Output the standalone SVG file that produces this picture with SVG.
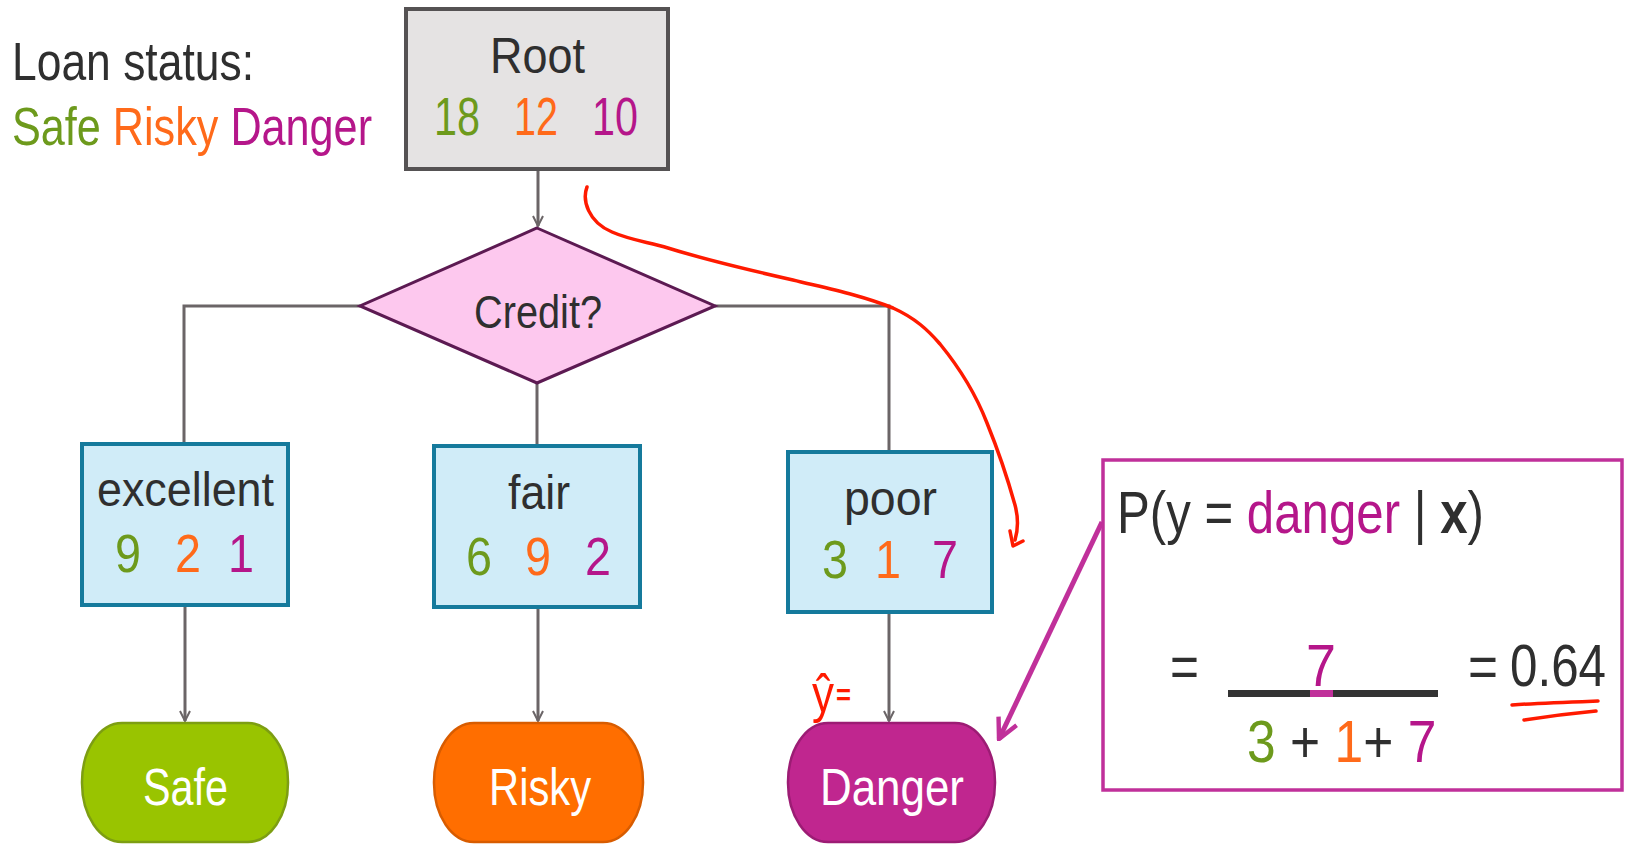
<svg xmlns="http://www.w3.org/2000/svg" width="1625" height="845" viewBox="0 0 1625 845">
<defs>
<style>
text{font-family:"Liberation Sans","DejaVu Sans",sans-serif}
.dk{fill:#2f2f2f}
.g{fill:#6d9a1c}
.o{fill:#ff6a1a}
.m{fill:#b5168a}
.w{fill:#ffffff}
.conn{fill:none;stroke:#6b6567;stroke-width:3}
.box{fill:#d0ecf8;stroke:#157a9c;stroke-width:4}
.red{fill:none;stroke:#ff1a00;stroke-width:3.5;stroke-linecap:round;stroke-linejoin:round}
</style>
<marker id="ga" viewBox="0 0 12 12" refX="11" refY="6" markerWidth="12" markerHeight="12" markerUnits="userSpaceOnUse" orient="auto">
<path d="M1,1 L11,6 L1,11" fill="none" stroke="#6b6567" stroke-width="2"/>
</marker>
<marker id="ma" viewBox="0 0 12 12" refX="11" refY="6" markerWidth="24" markerHeight="24" markerUnits="userSpaceOnUse" orient="auto">
<path d="M1,1 L11,6 L1,11" fill="none" stroke="#c0309a" stroke-width="2.2"/>
</marker>
</defs>
<rect width="1625" height="845" fill="#ffffff"/>

<g id="legend">
<text x="12" y="80" font-size="54" textLength="242" lengthAdjust="spacingAndGlyphs" class="dk">Loan status:</text>
<g transform="translate(12,145) scale(0.8,1)">
<text x="0" y="0" font-size="54"><tspan class="g">Safe</tspan> <tspan class="o">Risky</tspan> <tspan class="m">Danger</tspan></text>
</g>
</g>

<g id="connectors">
<path class="conn" d="M538,169 V226" marker-end="url(#ga)"/>
<path class="conn" d="M360,306 H184 V443"/>
<path class="conn" d="M537,383 V446"/>
<path class="conn" d="M715,306 H889 V451"/>
<path class="conn" d="M185,606 V721" marker-end="url(#ga)"/>
<path class="conn" d="M538,608 V721" marker-end="url(#ga)"/>
<path class="conn" d="M889,613 V721" marker-end="url(#ga)"/>
<path d="M1102,522 L999,739" fill="none" stroke="#c0309a" stroke-width="5" marker-end="url(#ma)"/>
</g>

<g id="root">
<rect x="406" y="9" width="262" height="160" fill="#e5e3e3" stroke="#555253" stroke-width="4"/>
<text x="490" y="73" font-size="50" textLength="95" lengthAdjust="spacingAndGlyphs" class="dk">Root</text>
<text x="434" y="135" font-size="54" textLength="46" lengthAdjust="spacingAndGlyphs" class="g">18</text>
<text x="514" y="135" font-size="54" textLength="44" lengthAdjust="spacingAndGlyphs" class="o">12</text>
<text x="592" y="135" font-size="54" textLength="46" lengthAdjust="spacingAndGlyphs" class="m">10</text>
</g>

<g id="credit">
<polygon points="537,228 715,306 537,383 360,306" fill="#fdc8ee" stroke="#5c1a52" stroke-width="3"/>
<text x="474" y="328" font-size="46" textLength="128" lengthAdjust="spacingAndGlyphs" class="dk">Credit?</text>
</g>

<g id="excellent">
<rect class="box" x="82" y="444" width="206" height="161"/>
<text x="97" y="506" font-size="48" textLength="177" lengthAdjust="spacingAndGlyphs" class="dk">excellent</text>
<text x="115" y="572" font-size="54" textLength="26" lengthAdjust="spacingAndGlyphs" class="g">9</text>
<text x="175" y="572" font-size="54" textLength="26" lengthAdjust="spacingAndGlyphs" class="o">2</text>
<text x="228" y="572" font-size="54" textLength="26" lengthAdjust="spacingAndGlyphs" class="m">1</text>
</g>

<g id="fair">
<rect class="box" x="434" y="446" width="206" height="161"/>
<text x="508" y="509" font-size="48" textLength="62" lengthAdjust="spacingAndGlyphs" class="dk">fair</text>
<text x="466" y="575" font-size="54" textLength="26" lengthAdjust="spacingAndGlyphs" class="g">6</text>
<text x="525" y="575" font-size="54" textLength="26" lengthAdjust="spacingAndGlyphs" class="o">9</text>
<text x="585" y="575" font-size="54" textLength="26" lengthAdjust="spacingAndGlyphs" class="m">2</text>
</g>

<g id="poor">
<rect class="box" x="788" y="452" width="204" height="160"/>
<text x="844" y="515" font-size="48" textLength="93" lengthAdjust="spacingAndGlyphs" class="dk">poor</text>
<text x="822" y="578" font-size="54" textLength="26" lengthAdjust="spacingAndGlyphs" class="g">3</text>
<text x="875" y="578" font-size="54" textLength="26" lengthAdjust="spacingAndGlyphs" class="o">1</text>
<text x="932" y="578" font-size="54" textLength="26" lengthAdjust="spacingAndGlyphs" class="m">7</text>
</g>

<g id="safe">
<rect x="82" y="723" width="206" height="119" rx="40" ry="59" fill="#99c400" stroke="#7d9e12" stroke-width="2.5"/>
<text x="143" y="805" font-size="52" textLength="85" lengthAdjust="spacingAndGlyphs" class="w">Safe</text>
</g>

<g id="risky">
<rect x="434" y="723" width="209" height="119" rx="40" ry="59" fill="#ff6e00" stroke="#d85c00" stroke-width="2.5"/>
<text x="489" y="805" font-size="52" textLength="102" lengthAdjust="spacingAndGlyphs" class="w">Risky</text>
</g>

<g id="danger">
<rect x="788" y="723" width="207" height="119" rx="40" ry="59" fill="#c0268f" stroke="#9c1c74" stroke-width="2.5"/>
<text x="820" y="805" font-size="52" textLength="144" lengthAdjust="spacingAndGlyphs" class="w">Danger</text>
</g>

<g id="formula">
<rect x="1103" y="460" width="519" height="330" fill="#ffffff" stroke="#c0309a" stroke-width="3.5"/>
<g transform="translate(1117,533) scale(0.82,1)">
<text x="0" y="0" font-size="60" class="dk">P(y = <tspan class="m">danger</tspan> | <tspan font-weight="bold">x</tspan>)</text>
</g>
<text x="1170" y="687" font-size="60" textLength="29" lengthAdjust="spacingAndGlyphs" class="dk">=</text>
<text x="1306" y="686" font-size="60" textLength="30" lengthAdjust="spacingAndGlyphs" class="m">7</text>
<rect x="1228" y="690" width="210" height="7" fill="#333333"/>
<rect x="1310" y="690" width="23" height="7" fill="#c0309a"/>
<g transform="translate(1247,762) scale(0.86,1)">
<text x="0" y="0" font-size="60" class="dk"><tspan class="g">3</tspan> + <tspan class="o">1</tspan>+ <tspan class="m">7</tspan></text>
</g>
<text x="1468" y="687" font-size="60" textLength="30" lengthAdjust="spacingAndGlyphs" class="dk">=</text>
<text x="1510" y="686" font-size="60" textLength="96" lengthAdjust="spacingAndGlyphs" class="dk">0.64</text>
</g>

<g id="annotations">
<path class="red" d="M587,187 C582,200 588,222 612,232 C630,240 648,242 668,248 C700,258 740,268 793,280 C830,289 860,295 893,308 C915,318 928,330 940,344 C958,366 975,392 987,423 C998,450 1008,480 1015,505 C1019,520 1018,530 1015,540"/>
<path class="red" d="M1010,531 L1013,546 L1023,541"/>
<path class="red" d="M1512,705 C1540,703 1570,702 1598,701"/>
<path class="red" d="M1524,720 C1550,716 1575,713 1596,711"/>
<text x="812" y="712" font-size="54" fill="#ff1a00" textLength="22" lengthAdjust="spacingAndGlyphs">ŷ</text>
<text x="836" y="705" font-size="30" fill="#ff1a00" font-weight="bold" textLength="15" lengthAdjust="spacingAndGlyphs">=</text>
</g>
</svg>
